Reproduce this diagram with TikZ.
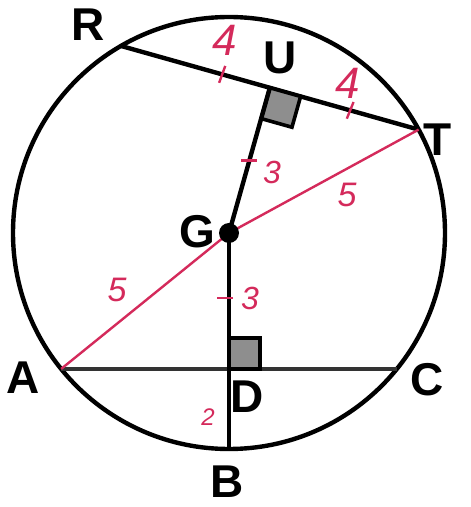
\documentclass[tikz,border=0pt]{standalone}
\usepackage{fontspec}
\setmainfont{Liberation Sans}
\usetikzlibrary{calc}
\definecolor{cTinta}{HTML}{D42A5B}
\definecolor{cSombra}{HTML}{8E8E8E}
\tikzset{
    x=0.5pt, y=0.5pt,
    circ/.style={line width=2.2pt, black},
    chord/.style={line width=2.2pt, black},
    base/.style={line width=1.6pt, black!80},
    rojo/.style={line width=1.2pt, cTinta},
    recto/.style={draw=black, line width=1.8pt, fill=cSombra},
    lbl/.style={font=\fontsize{23}{23}\selectfont\bfseries, inner sep=0pt},
    num/.style={font=\fontsize{#1}{#1}\selectfont\itshape, text=cTinta, inner sep=0pt},
}

\begin{document}
\begin{tikzpicture}
    \useasboundingbox (-229,-274) rectangle (241,233);

    \coordinate (G) at (0,0);
    \coordinate (R) at (120:216);
    \coordinate (T) at (28.6:216);
    \coordinate (A) at (219:216);
    \coordinate (C) at (321:216);
    \coordinate (B) at (270:216);
    \coordinate (U) at ($(R)!0.5!(T)$);
    \coordinate (D) at ($(A)!0.5!(C)$);

    \draw[circ] (G) circle (216);
    \draw[chord] (R) -- (T);
    \draw[base] (A) -- (C);
    \draw[rojo] (A) -- (G) -- (T);

    % right angles
    \coordinate (u1) at ($(U)!16pt!(T)$);
    \coordinate (u3) at ($(U)!16pt!(G)$);
    \draw[recto] (U) -- (u1) -- ($(u1)+(u3)-(U)$) -- (u3) -- cycle;
    \draw[recto] (D) rectangle ++(31,31);

    \draw[chord] (G) -- (U);
    \draw[chord] (G) -- (B);
    \fill (G) circle (10);

    % tick marks
    \draw[rojo] ($(R)!0.34!(T)$) +(70:9) -- +(250:9);
    \draw[rojo] ($(R)!0.77!(T)$) +(68:9) -- +(248:9);
    \draw[rojo] ($(G)!0.5!(U)$) +(-8,0) -- +(8,0);
    \draw[rojo] ($(G)!0.48!(D)$) +(-12,0) -- +(4,0);

    \node[lbl] (lR) at (-141,208) {R};
    \node[lbl] (lU) at (51,175) {U};
    \node[lbl] (lT) at (209,93) {T};
    \node[lbl] (lG) at (-32,1) {G};
    \node[lbl] (lA) at (-206,-145) {A};
    \node[lbl] (lD) at (18,-164) {D};
    \node[lbl] (lC) at (198,-147) {C};
    \node[lbl] (lB) at (-2,-249) {B};

    \node[num=22] (nRU) at (-4,193) {4};
    \node[num=22] (nUT) at (119,150) {4};
    \node[num=16] (nGU) at (43,61) {3};
    \node[num=17] (nGT) at (118,38) {5};
    \node[num=16] (nGD) at (21,-65) {3};
    \node[num=17] (nGA) at (-112,-57) {5};
    \node[num=12] (nDB) at (-21,-184) {2};
\end{tikzpicture}
\end{document}
